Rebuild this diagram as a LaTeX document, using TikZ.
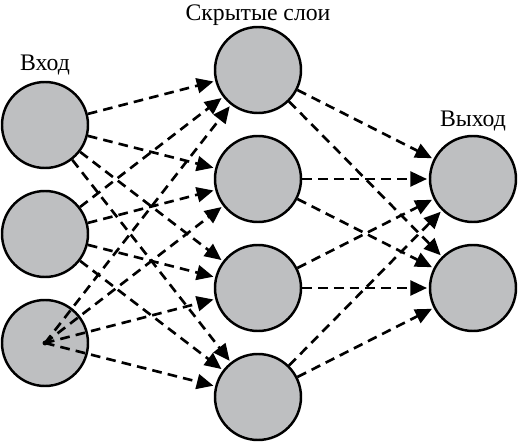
\documentclass[tikz,border=0pt]{standalone}
\usepackage{fontspec}
\setmainfont{Liberation Serif}
\usetikzlibrary{positioning,arrows.meta}
\definecolor{neurongray}{HTML}{BEBFC1}

\begin{document}
\begin{tikzpicture}[shorten >=1pt,node distance=2.18cm,on grid,
    neuron/.style={circle,draw,line width=1.4pt,fill=neurongray,minimum size=1.72cm,inner sep=0pt},
    conn/.style={-{Triangle[length=9.5pt,width=8.5pt]},line width=1.5pt,dash pattern=on 5.5pt off 3.5pt},
    font=\fontsize{13.5}{15}\selectfont]
  \useasboundingbox (-0.9,-6.34) rectangle (9.46,2.5);
  \node[neuron]  (in1)                                  {};
  \node[neuron]  (in2) [below=of in1]                   {};
  \node[neuron]  (in3) [below=of in2]                   {};
  \node[neuron]  (h1)  [above right=1.1cm and 4.26cm of in1] {};
  \node[neuron]  (h2)  [below=of h1]                    {};
  \node[neuron]  (h3)  [below=of h2]                    {};
  \node[neuron]  (h4)  [below=of h3]                    {};
  \node[neuron]  (out1) [right=4.3cm of h2]             {};
  \node[neuron]  (out2) [below=of out1]                 {};
  \node (inlabel)  [above=1.2cm of in1]   {Вход};
  \node (hidlabel) [above=1.1cm of h1]    {Скрытые слои};
  \node (outlabel) [above=1.16cm of out1] {Выход};
  \fill (in3.center) circle (1.4pt);
  \foreach \h in {h1,h2,h3,h4}
    \path[conn]
    (in1) edge (\h)
    (in2) edge (\h)
    (in3.center) edge (\h);
  \foreach \o in {out1,out2}
    \path[conn]
    (h1) edge (\o)
    (h2) edge (\o)
    (h3) edge (\o)
    (h4) edge (\o);
\end{tikzpicture}
\end{document}
